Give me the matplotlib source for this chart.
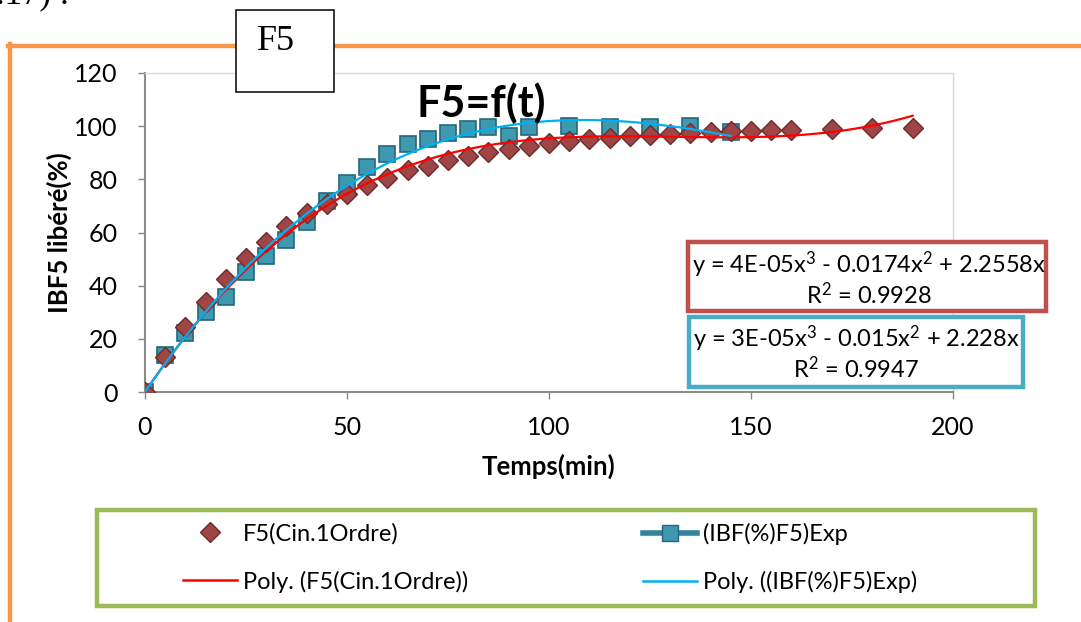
import numpy as np
import matplotlib
matplotlib.use("Agg")
import matplotlib.pyplot as plt
from matplotlib.lines import Line2D
from matplotlib.patches import Rectangle

plt.rcParams['font.family'] = ['Lato', 'DejaVu Sans']
plt.rcParams['mathtext.fontset'] = 'custom'
plt.rcParams['mathtext.rm'] = 'Lato'
plt.rcParams['mathtext.it'] = 'Lato'
plt.rcParams['mathtext.bf'] = 'Lato:bold'

# ---- data ----
t_cin = [0, 5, 10, 15, 20, 25, 30, 35, 40, 45, 50, 55, 60, 65, 70, 75, 80, 85, 90, 95,
         100, 105, 110, 115, 120, 125, 130, 135, 140, 145, 150, 155, 160, 170, 180, 190]
f5_cin = [0, 13.2, 24.3, 34.0, 42.5, 50.3, 56.6, 62.5, 67.2, 70.7, 74.5, 77.8, 80.6, 83.5,
          85.0, 87.3, 88.8, 90.4, 91.3, 92.4, 93.6, 94.4, 95.0, 95.7, 96.3, 96.7, 97.1,
          97.6, 97.9, 98.3, 98.3, 98.6, 98.6, 98.9, 99.2, 99.2]
t_exp = [0, 5, 10, 15, 20, 25, 30, 35, 40, 45, 50, 55, 60, 65, 70, 75, 80, 85, 90, 95,
         105, 115, 125, 135, 145]
ibf_exp = [0, 13.9, 22.1, 30.2, 35.9, 45.3, 51.2, 57.2, 64.1, 72.0, 78.5, 84.5, 89.5, 93.3,
           95.2, 97.6, 98.8, 99.8, 96.3, 99.5, 100.0, 99.8, 99.8, 100.0, 97.9]

x_ticks = [0, 50, 100, 150, 200]
y_ticks = [0, 20, 40, 60, 80, 100, 120]

eq_cin = "y = 4E-05x$^{3}$ - 0.0174x$^{2}$ + 2.2558x\nR$^{2}$ = 0.9928"
eq_exp = "y = 3E-05x$^{3}$ - 0.015x$^{2}$ + 2.228x\nR$^{2}$ = 0.9947"

W, H = 1081, 622
fig = plt.figure(figsize=(W / 100, H / 100), dpi=100)


def fx(px):
    return px / W


def fy(py):
    return 1 - py / H


def cubic_fit(x, y):
    x = np.asarray(x, float)
    y = np.asarray(y, float)
    A = np.column_stack([x, x ** 2, x ** 3])
    c, *_ = np.linalg.lstsq(A, y, rcond=None)
    return lambda xx: c[0] * xx + c[1] * xx ** 2 + c[2] * xx ** 3


# orange chart frame
fig.add_artist(Line2D([fx(10), fx(10)], [fy(44), fy(640)], color='#F79646', lw=3.2,
                      transform=fig.transFigure))
fig.add_artist(Line2D([fx(8), fx(1100)], [fy(46), fy(46)], color='#F79646', lw=3.2,
                      transform=fig.transFigure))

ax = fig.add_axes([fx(145), fy(392), fx(953) - fx(145), fy(73) - fy(392)])
ax.set_xlim(0, 200)
ax.set_ylim(0, 120)
ax.set_xticks(x_ticks)
ax.set_yticks(y_ticks)
ax.tick_params(direction='out', length=5, width=1, color='#868686', labelsize=18,
               labelcolor='black')
ax.tick_params(axis='y', pad=14.5)
ax.tick_params(axis='x', pad=12)
for s in ['left', 'bottom']:
    ax.spines[s].set_color('#8C8C8C')
    ax.spines[s].set_linewidth(1.5)
for s in ['top', 'right']:
    ax.spines[s].set_color('#D9D9D9')
    ax.spines[s].set_linewidth(1.0)

ax.set_xlabel('Temps(min)', fontsize=18.5, fontweight='bold')
ax.xaxis.set_label_coords(0.5, (392 - 454) / 319)
ax.set_ylabel('IBF5 libéré(%)', fontsize=18.5, fontweight='bold')
ax.yaxis.set_label_coords((72 - 145) / 808, 0.5)

# trend lines
f_cin = cubic_fit(t_cin, f5_cin)
f_exp = cubic_fit(t_exp, ibf_exp)
xc = np.linspace(0, max(t_cin), 300)
xe = np.linspace(0, max(t_exp), 300)

ax.plot(t_exp, ibf_exp, linestyle='none', marker='s', markersize=11.5,
        markerfacecolor='#3E98B0', markeredgecolor='#25677A', markeredgewidth=1.2, zorder=3)
ax.plot(t_cin, f5_cin, linestyle='none', marker='D', markersize=10.5,
        markerfacecolor='#9E4646', markeredgecolor='#6E2B2B', markeredgewidth=1.0, zorder=4)
ax.plot(xc, f_cin(xc), color='#FF0000', lw=1.6, zorder=5)
ax.plot(xe, f_exp(xe), color='#00B0F0', lw=1.6, zorder=5)

# title
fig.text(fx(481), fy(103), 'F5=f(t)', fontsize=31, fontweight='bold', ha='center', va='center')

# F5 label box
fig.add_artist(Rectangle((fx(236), fy(92)), fx(334) - fx(236), fy(10) - fy(92),
                         facecolor='white', edgecolor='black', lw=1.1,
                         transform=fig.transFigure, zorder=10))
fig.text(fx(276), fy(42), 'F5', fontsize=26, family='Liberation Serif', ha='center',
         va='center', zorder=11)
fig.text(fx(-4), fy(3), '.17) :', fontsize=25, family='Liberation Serif', ha='left',
         va='baseline')

# equation boxes
fig.add_artist(Rectangle((fx(688), fy(311)), fx(1046) - fx(688), fy(242) - fy(311),
                         facecolor='white', edgecolor='#C0504D', lw=3.2,
                         transform=fig.transFigure, zorder=10))
fig.text(fx(869), fy(279), eq_cin, fontsize=17, ha='center', va='center',
         linespacing=1.05, multialignment='center', zorder=11)
fig.add_artist(Rectangle((fx(689), fy(387)), fx(1023) - fx(689), fy(317) - fy(387),
                         facecolor='white', edgecolor='#4BACC6', lw=3.2,
                         transform=fig.transFigure, zorder=10))
fig.text(fx(856), fy(353), eq_exp, fontsize=17, ha='center', va='center',
         linespacing=1.05, multialignment='center', zorder=11)

# legend frame
fig.add_artist(Rectangle((fx(97), fy(606)), fx(1035) - fx(97), fy(510) - fy(606),
                         facecolor='white', edgecolor='#9BBB59', lw=3.2,
                         transform=fig.transFigure, zorder=1))

h_cin = Line2D([], [], linestyle='none', marker='D', markersize=10.5,
               markerfacecolor='#9E4646', markeredgecolor='#6E2B2B')
h_pcin = Line2D([], [], color='#FF0000', lw=1.8)
h_exp = Line2D([], [], color='#31849B', lw=4, marker='s', markersize=11.5,
               markerfacecolor='#3E98B0', markeredgecolor='#25677A')
h_pexp = Line2D([], [], color='#00B0F0', lw=1.8)

common = dict(loc='upper left', frameon=False, fontsize=17, handlelength=2.3,
              handletextpad=0.25, labelspacing=1.1, borderpad=0, borderaxespad=0)
fig.legend([h_cin, h_pcin], ['F5(Cin.1Ordre)', 'Poly. (F5(Cin.1Ordre))'],
           bbox_to_anchor=(fx(183), fy(523)), **common)
fig.legend([h_exp, h_pexp], ['(IBF(%)F5)Exp', 'Poly. ((IBF(%)F5)Exp)'],
           bbox_to_anchor=(fx(643), fy(523)), **common)

fig.savefig('out.png', dpi=100)
